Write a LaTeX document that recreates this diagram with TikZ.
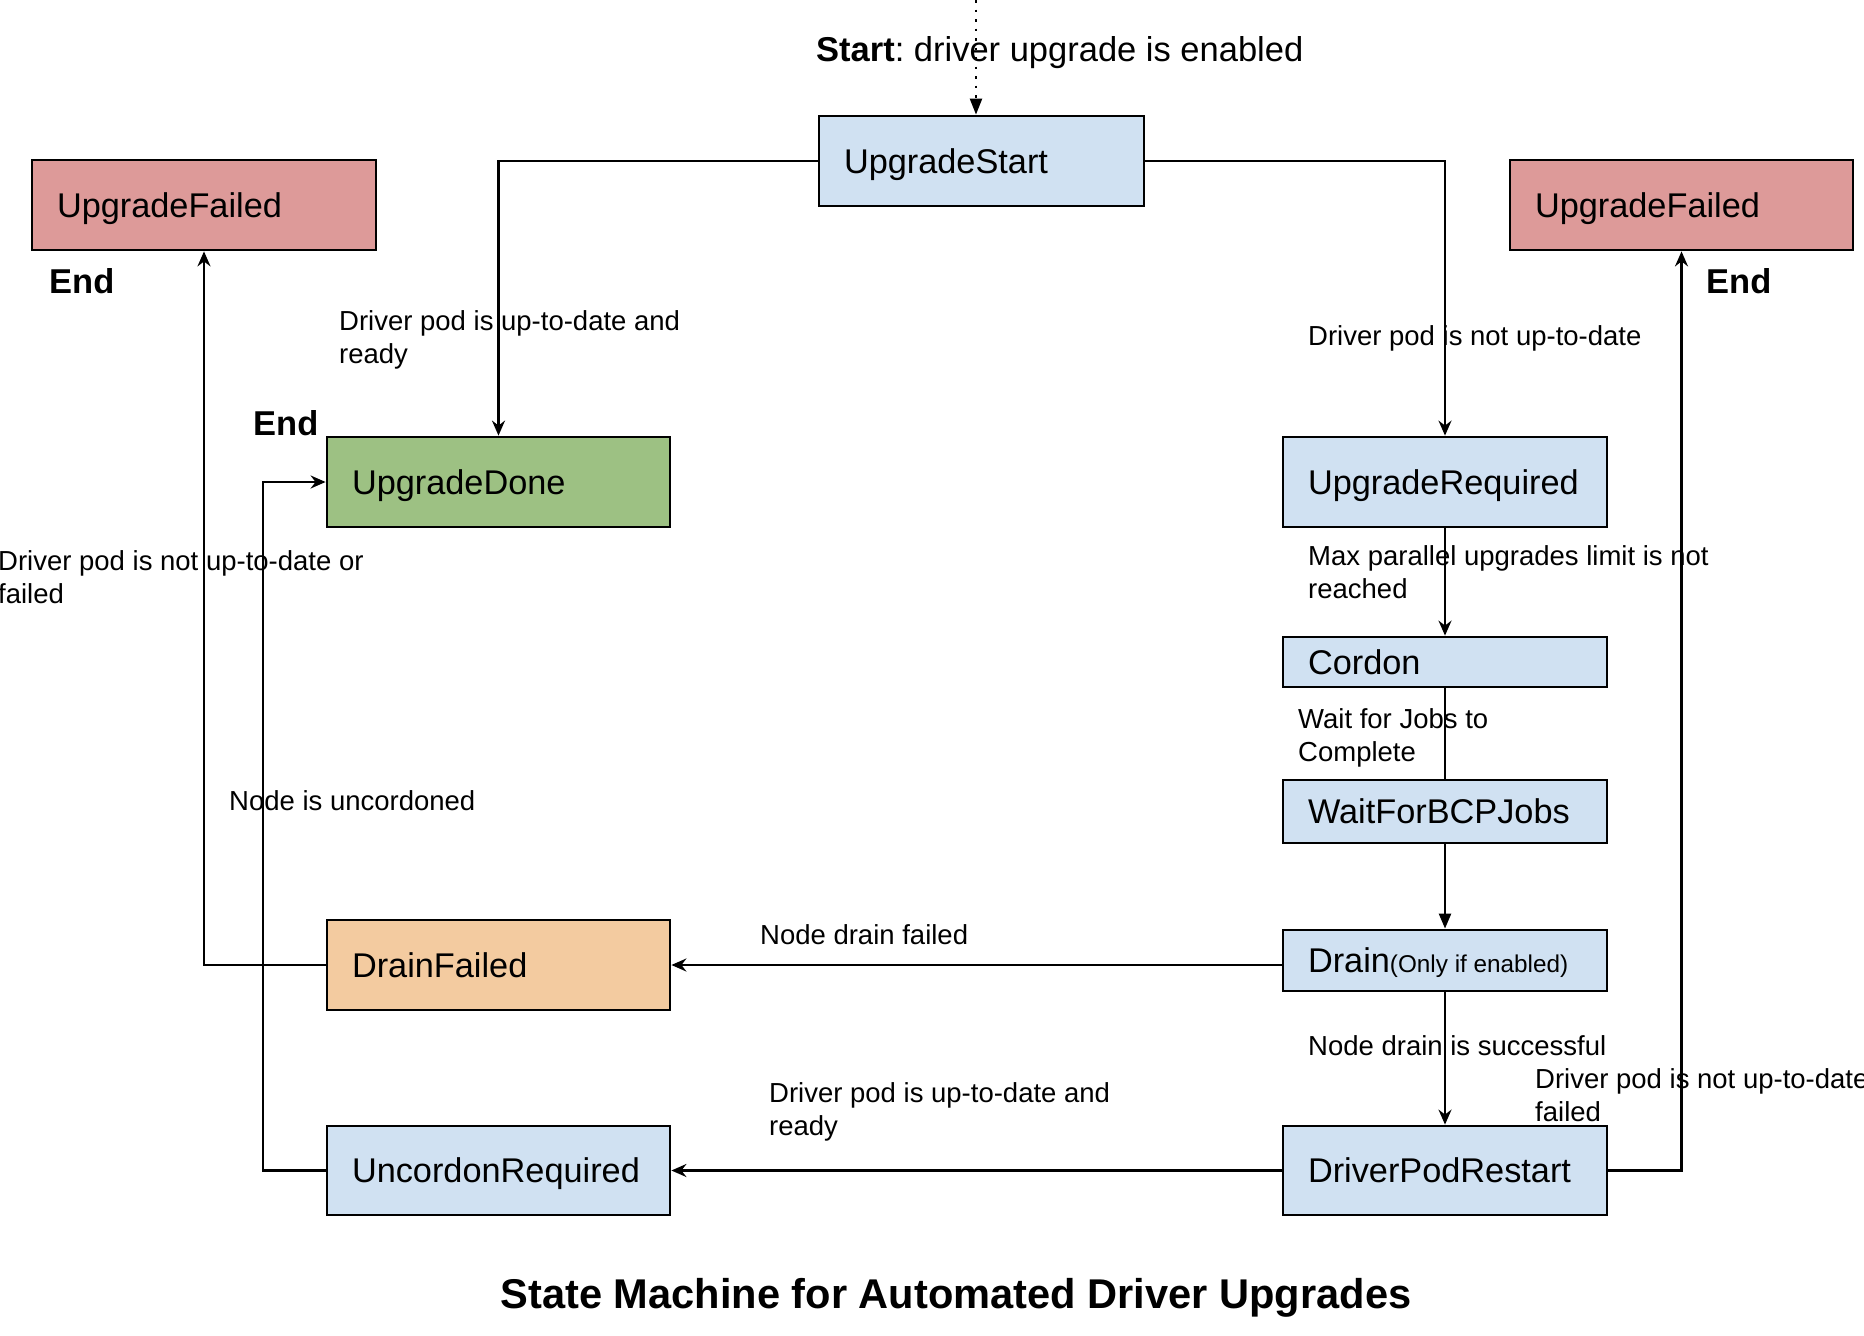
\documentclass[tikz,border=0pt]{standalone}
\usepackage{fontspec}
\setmainfont{Liberation Sans}
\usetikzlibrary{arrows.meta}
\definecolor{bluefill}{HTML}{D0E1F2}
\definecolor{redfill}{HTML}{DD9A99}
\definecolor{greenfill}{HTML}{9DC183}
\definecolor{orangefill}{HTML}{F3CBA0}
\newcommand{\lbs}{\rule{0pt}{22pt}}
\frenchspacing
\begin{document}
\begin{tikzpicture}[x=1pt,y=-1pt,
  box/.style={draw=black, line width=2.8pt, inner xsep=25pt, inner ysep=0pt,
    align=flush left, font=\fontsize{34.3}{40}\selectfont, anchor=center,
    text height=24.6pt, text depth=0pt},
  lcol/.style={box, minimum width=343pt, text width=293pt, minimum height=90pt},
  rcol/.style={box, minimum width=324pt, text width=274pt},
  conn/.style={line width=2.3pt, -{Stealth[length=15pt,width=13pt,inset=5pt]}},
  bigconn/.style={line width=2.3pt, -{Triangle[length=15pt,width=12pt]}},
  plain/.style={line width=2.3pt},
  lbl/.style={inner sep=0pt, anchor=north west, align=flush left,
    font=\fontsize{27.5}{33.5}\selectfont},
  big/.style={inner sep=0pt, anchor=base west, font=\fontsize{34.5}{40}\selectfont}]
\useasboundingbox (0,0) rectangle (1864,1336);

% states
\node[box, fill=bluefill, minimum width=325pt, text width=275pt, minimum height=90pt] (US) at (981.5,161) {UpgradeStart};
\node[box, fill=redfill, minimum width=344pt, text width=294pt, minimum height=90pt] (UFL) at (204,205) {UpgradeFailed};
\node[box, fill=redfill, minimum width=343pt, text width=293pt, minimum height=90pt] (UFR) at (1681.5,205) {UpgradeFailed};
\node[lcol, fill=greenfill] (UD) at (498.5,482) {UpgradeDone};
\node[rcol, fill=bluefill, minimum height=90pt] (UReq) at (1445,482) {UpgradeRequired};
\node[rcol, fill=bluefill, minimum height=50pt] (Cor) at (1445,662) {Cordon};
\node[rcol, fill=bluefill, minimum height=63pt] (Wait) at (1445,811.5) {WaitForBCPJobs};
\node[rcol, fill=bluefill, minimum height=61pt] (Drain) at (1445,960.5) {Drain{\fontsize{24.3}{28}\selectfont(Only if enabled)}};
\node[lcol, fill=orangefill] (DF) at (498.5,965) {DrainFailed};
\node[lcol, fill=bluefill, minimum height=89pt] (UR) at (498.5,1170.5) {UncordonRequired};
\node[rcol, fill=bluefill, minimum height=89pt] (DPR) at (1445,1170.5) {DriverPodRestart};

% helper coordinates
\coordinate (s0) at (976,0);
\coordinate (ux) at (263,0);

% connectors
\draw[line width=2.3pt, dash pattern=on 2.5pt off 7pt, -{Triangle[length=16pt,width=12pt]}] (s0) -- (s0 |- US.north);
\draw[conn] (US.west) -| (UD.north);
\draw[conn] (US.east) -| (UReq.north);
\draw[conn] (UReq.south) -- (Cor.north);
\draw[plain] (Cor.south) -- (Wait.north);
\draw[bigconn] (Wait.south) -- (Drain.north);
\draw[conn] (Drain.west |- DF.east) -- (DF.east);
\draw[conn] (Drain.south) -- (DPR.north);
\draw[conn] (DPR.west) -- (UR.east);
\draw[conn] (DPR.east) -| (UFR.south);
\draw[conn] (DF.west) -| (UFL.south);
\draw[conn] (UR.west) -- (UR.west -| ux) |- (UD.west);

% big texts
\node[big] (start) at (816,61) {\textbf{Start}: driver upgrade is enabled};
\node[big] (end1) at (49,293) {\textbf{End}};
\node[big] (end2) at (1706,293) {\textbf{End}};
\node[big] (end3) at (253,435) {\textbf{End}};

% labels
\node[lbl] (l1) at (339,308) {\lbs Driver pod is up-to-date and\\ready};
\node[lbl] (l2) at (1308,323) {\lbs Driver pod is not up-to-date};
\node[lbl] (l3) at (-2,548) {\lbs Driver pod is not up-to-date or\\failed};
\node[lbl] (l4) at (1308,543) {\lbs Max parallel upgrades limit is not\\reached};
\node[lbl] (l5) at (1298,706) {\lbs Wait for Jobs to\\Complete};
\node[lbl] (l6) at (229,788) {\lbs Node is uncordoned};
\node[lbl] (l7) at (760,922) {\lbs Node drain failed};
\node[lbl] (l8) at (1308,1033) {\lbs Node drain is successful};
\node[lbl] (l9) at (1535,1066) {\lbs Driver pod is not up-to-date or\\failed};
\node[lbl] (l10) at (769,1080) {\lbs Driver pod is up-to-date and\\ready};

% title
\node[inner sep=0pt, anchor=base, font=\fontsize{41.6}{48}\selectfont\bfseries] (title) at (956,1308) {State Machine for Automated Driver Upgrades};
\end{tikzpicture}
\end{document}
